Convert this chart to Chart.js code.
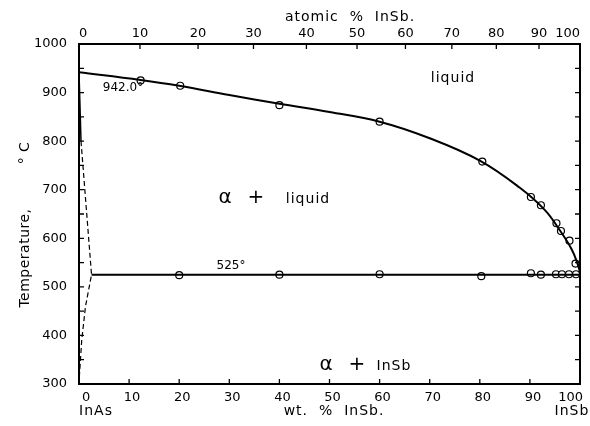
<!DOCTYPE html>
<html>
<head>
<meta charset="utf-8">
<script src="https://cdn.jsdelivr.net/npm/chart.js@4.4.1/dist/chart.umd.min.js"></script>
<style>
html,body{margin:0;padding:0;background:#fff;}
#wrap{width:590px;height:426px;}
</style>
</head>
<body>
<div id="wrap"><canvas id="c" width="590" height="426"></canvas></div>
<script>
// ---- data (wt. % InSb, temperature °C) ----
// liquidus curve as drawn
const liquidusWt = [0, 12.3, 20, 30, 40, 50, 60, 70, 80, 88, 93, 96, 98.3, 99.5, 100];
const liquidusT  = [942, 926, 914, 895, 877, 860, 840, 806, 760, 704, 658, 616, 578, 548, 530];
// measured liquidus points (circles)
const liqPointsWt = [12.3, 20.2, 40, 60, 80.5, 90.2, 92.2, 95.3, 96.2, 97.9, 99.1];
const liqPointsT  = [925, 914, 874, 840, 758, 685, 668, 631, 615, 595, 548];

const eutecticWt = [2.5, 100];
const eutecticT  = [525, 525];
const eutPointsWt = [20, 40, 60, 80.3, 90.2, 92.2, 95.2, 96.4, 97.8, 99.2];
const eutPointsT  = [524, 525, 526, 522, 528, 525, 526, 526, 526, 526];

const solidusWt = [0, 0.4];
const solidusT  = [942, 800];
const dashedWt  = [0.4, 2.5, 1.3, 0.55, 0.1, 0];
const dashedT   = [800, 525, 460, 391, 320, 300];

const atomicTicks = [0, 10, 20, 30, 40, 50, 60, 70, 80, 90, 100];
const wtTicks = [0, 10, 20, 30, 40, 50, 60, 70, 80, 90, 100];
const tempTicks = [300, 400, 500, 600, 700, 800, 900, 1000];

// molecular weights for atomic% -> wt% conversion of the top axis
const MW_InAs = 189.74, MW_InSb = 236.58;
function atomicToWt(a){ const x=a/100; return 100*x*MW_InSb/(x*MW_InSb+(1-x)*MW_InAs); }

const pts = (xs, ys) => xs.map((x,i)=>({x:x, y:ys[i]}));
const FONT = "'DejaVu Sans', sans-serif";

const textPlugin = {
  id:'extras',
  afterDraw(chart){
    const ctx = chart.ctx;
    const a = chart.chartArea;
    const sx = chart.scales.x, sy = chart.scales.y, st = chart.scales.x2;
    ctx.save();
    ctx.strokeStyle = '#000';
    ctx.lineWidth = 1.3;
    ctx.beginPath();
    for (let v=0; v<=100; v+=10){ const x=sx.getPixelForValue(v); ctx.moveTo(x,a.bottom); ctx.lineTo(x,a.bottom-5); }
    atomicTicks.forEach(t=>{ const x=st.getPixelForValue(atomicToWt(t)); ctx.moveTo(x,a.top); ctx.lineTo(x,a.top+5); });
    for (let t=300; t<=1000; t+=50){ const y=sy.getPixelForValue(t); ctx.moveTo(a.left,y); ctx.lineTo(a.left+5,y); ctx.moveTo(a.right,y); ctx.lineTo(a.right-5,y); }
    ctx.stroke();

    ctx.fillStyle = '#000';
    ctx.textBaseline = 'middle';
    ctx.textAlign = 'center';
    ctx.font = "14px " + FONT;
    ctx.letterSpacing = '1px';
    ctx.fillText('atomic  %  InSb.', 350, 17);
    ctx.fillText('wt.  %  InSb.', 334, 411);
    ctx.fillText('InAs', 96, 411);
    ctx.fillText('InSb', 572, 411);
    ctx.fillText('liquid', 453, 78);
    ctx.fillText('liquid', 308, 199);
    ctx.fillText('InSb', 394, 366);
    ctx.letterSpacing = '0px';
    ctx.font = "12px " + FONT;
    ctx.fillText('942.0°', 123, 88);
    ctx.fillText('525°', 231, 266);
    ctx.font = "20px " + FONT;
    ctx.fillText('α', 225, 198);
    ctx.fillText('+', 256, 198);
    ctx.fillText('α', 326, 365);
    ctx.fillText('+', 357, 365);
    ctx.save();
    ctx.translate(25, 0);
    ctx.rotate(-Math.PI/2);
    ctx.font = "14px " + FONT;
    ctx.letterSpacing = '0.5px';
    ctx.fillText('Temperature,', -258, 0);
    ctx.fillText('° C', -153, 0);
    ctx.restore();
    ctx.restore();
  }
};

const black = '#000';
new Chart(document.getElementById('c'), {
  type: 'scatter',
  data: {
    datasets: [
      { data: pts(liquidusWt, liquidusT), showLine:true, borderColor:black, borderWidth:2,
        tension:0.4, pointRadius:0, clip:false },
      { data: pts(liqPointsWt, liqPointsT), showLine:false, pointRadius:3.5, pointBackgroundColor:'#fff', pointBorderColor:black, pointBorderWidth:1.2, clip:false },
      { data: pts(eutecticWt, eutecticT), showLine:true, borderColor:black, borderWidth:2, pointRadius:0, clip:false },
      { data: pts(eutPointsWt, eutPointsT), showLine:false, pointRadius:3.5, pointBackgroundColor:'#fff', pointBorderColor:black, pointBorderWidth:1.2, clip:false },
      { data: pts(solidusWt, solidusT), showLine:true, borderColor:black, borderWidth:1.5, pointRadius:0, clip:false },
      { data: pts(dashedWt, dashedT), showLine:true, borderColor:black, borderWidth:1.2, borderDash:[5,3], pointRadius:0, clip:false }
    ]
  },
  options: {
    responsive:false, animation:false,
    layout:{padding:0},
    plugins:{legend:{display:false}, tooltip:{enabled:false}},
    scales:{
      x:{ type:'linear', position:'bottom', min:0, max:100,
          afterBuildTicks(s){ s.ticks = wtTicks.map(v=>({value:v})); },
          ticks:{ padding:6, color:'#000', font:{family:FONT, size:13}, maxRotation:0, autoSkip:false,
                  align:'inner', labelOffset:3, callback:(v)=>String(v) },
          grid:{ display:false, drawTicks:false }, border:{ color:'#000', width:2 },
          afterFit(s){ s.height = 42; s.paddingLeft = 0; s.paddingRight = 0; } },
      x2:{ type:'linear', position:'top', min:0, max:100,
          afterBuildTicks(s){ s.ticks = atomicTicks.map(a=>({value:atomicToWt(a)})); },
          ticks:{ padding:3, color:'#000', font:{family:FONT, size:13}, maxRotation:0, autoSkip:false,
                  align:'inner', callback:(v,i)=>String(atomicTicks[i]) },
          grid:{ display:false, drawTicks:false }, border:{ color:'#000', width:2 },
          afterFit(s){ s.height = 44; s.paddingLeft = 0; s.paddingRight = 0; } },
      y:{ type:'linear', position:'left', min:300, max:1000,
          afterBuildTicks(s){ s.ticks = tempTicks.map(v=>({value:v})); },
          ticks:{ padding:12, color:'#000', font:{family:FONT, size:13}, callback:(v)=>String(v) },
          grid:{ display:false, drawTicks:false }, border:{ color:'#000', width:2 },
          afterFit(s){ s.width = 79; s.paddingTop = 0; s.paddingBottom = 0; } },
      y2:{ type:'linear', position:'right', min:300, max:1000,
          ticks:{ display:false },
          grid:{ display:false, drawTicks:false }, border:{ color:'#000', width:2 },
          afterFit(s){ s.width = 10; s.paddingTop = 0; s.paddingBottom = 0; } }
    }
  },
  plugins:[textPlugin]
});
</script>
</body>
</html>
